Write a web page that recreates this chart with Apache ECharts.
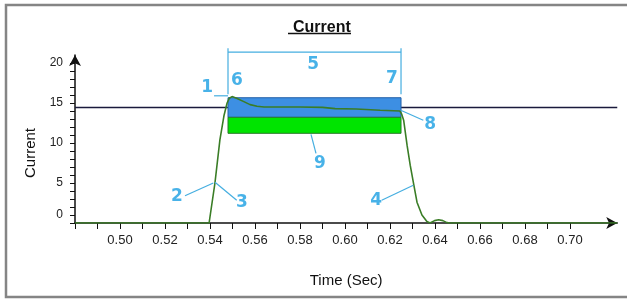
<!DOCTYPE html>
<html>
<head>
<meta charset="utf-8">
<script src="https://cdn.jsdelivr.net/npm/echarts@6/dist/echarts.min.js"></script>
<style>
html,body{margin:0;padding:0;background:#fff;overflow:hidden;}
#chart{width:627px;height:299px;}
</style>
</head>
<body>
<div id="chart"></div>
<script>
// ---- data ----
var timeSec = [0.480, 0.5396, 0.5422, 0.5444, 0.5462, 0.5476, 0.5486, 0.5498, 0.5518, 0.5548, 0.5578, 0.5609, 0.5640, 0.570, 0.580, 0.590, 0.5956, 0.605, 0.6156, 0.6244, 0.6252, 0.6261, 0.6276, 0.6290, 0.6305, 0.6320, 0.6342, 0.6364, 0.6378, 0.6398, 0.6416, 0.6435, 0.6453, 0.6467, 0.721];
var currentA = [0, 0, 5.0, 10.4, 13.4, 15.0, 15.6, 15.8, 15.6, 15.2, 14.8, 14.6, 14.5, 14.5, 14.5, 14.45, 14.3, 14.25, 14.1, 14.0, 13.6, 12.8, 9.7, 7.2, 4.9, 2.6, 1.0, 0.2, 0, 0.3, 0.4, 0.3, 0.05, 0, 0];
var refLevel = 14.45;
var bandStart = 0.548, bandEnd = 0.6249;
var blueTop = 15.66, blueBottom = 13.21, greenBottom = 11.21;
var xTickValues = [0.48,0.49,0.50,0.51,0.52,0.53,0.54,0.55,0.56,0.57,0.58,0.59,0.60,0.61,0.62,0.63,0.64,0.65,0.66,0.67,0.68,0.69,0.70];
var xLabelValues = [0.50,0.52,0.54,0.56,0.58,0.60,0.62,0.64,0.66,0.68,0.70];
var yTickValues = [0,1,2,3,4,5,6,7,8,9,10,11,12,13,14,15,16,17,18,19,20];
var yLabelValues = [0,5,10,15,20];
var calloutText = ['1','2','3','4','5','6','7','8','9'];
var calloutTime = [0.5387, 0.5253, 0.5542, 0.6138, 0.5858, 0.5520, 0.6209, 0.6378, 0.5889];
var calloutValue = [16.94, 3.31, 2.50, 2.75, 19.75, 17.81, 18.06, 12.31, 7.38];
var leaderLines = [
  [[0.5418, 15.9], [0.5480, 15.9]],
  [[0.52889, 3.4], [0.54147, 5.0]],
  [[0.54222, 5.1], [0.55187, 2.84]],
  [[0.61631, 2.84], [0.63036, 4.71]],
  [[0.62476, 14.09], [0.6348, 12.84]],
  [[0.58489, 11.09], [0.58711, 8.71]],
  [[0.548, 16.1], [0.548, 21.85]],
  [[0.6249, 16.1], [0.6249, 21.85]],
  [[0.548, 21.35], [0.6249, 21.35]]
];
// rectangles: [start, end, top, bottom, fill, border]
var bands = [
  [bandStart, bandEnd, blueTop, blueBottom, '#3d8fe3', '#2360a8'],
  [bandStart, bandEnd, blueBottom, greenBottom, '#00e400', '#2a7a2a']
];

var cyanText = '#1a9fe2';
var cyanLine = '#45aee0';
var fontFam = '"Liberation Sans", Arial, sans-serif';

var chart = echarts.init(document.getElementById('chart'), null, {renderer:'canvas'});

var series = [];
series.push({
  type:'line', z:1, silent:true, showSymbol:false, animation:false,
  data:[[0.48, refLevel],[0.721, refLevel]],
  lineStyle:{color:'#1a1a3c', width:1.5}
});
series.push({
  type:'custom', z:2, silent:true, animation:false,
  data: bands,
  renderItem:function(params, api){
    var p0 = api.coord([api.value(0), api.value(2)]);
    var p1 = api.coord([api.value(1), api.value(3)]);
    var b = bands[params.dataIndex];
    return {type:'rect', shape:{x:p0[0], y:p0[1], width:p1[0]-p0[0], height:p1[1]-p0[1]},
      style:{fill:b[4], stroke:b[5], lineWidth:1}};
  }
});
series.push({
  type:'line', z:3, silent:true, showSymbol:false, animation:false,
  data: timeSec.map(function(t,i){return [t, currentA[i]];}),
  lineStyle:{color:'#3a7d26', width:1.6}
});
leaderLines.forEach(function(seg){
  series.push({
    type:'line', z:4, silent:true, showSymbol:false, clip:false, animation:false,
    data:seg, lineStyle:{color:cyanLine, width:1.2}
  });
});
series.push({
  type:'scatter', z:5, silent:true, clip:false, animation:false,
  symbolSize:1, itemStyle:{color:'rgba(0,0,0,0)'},
  data: calloutText.map(function(s,i){return {name:s, value:[calloutTime[i], calloutValue[i]]};}),
  label:{show:true, position:'inside', formatter:'{b}', color:cyanText, fontSize:17, fontWeight:'bold', fontFamily:'"DejaVu Sans", Verdana, sans-serif'}
});

chart.setOption({
  animation:false,
  backgroundColor:'#ffffff',
  title:{
    text:'Current', left:288, top:15,
    textStyle:{fontSize:16, fontWeight:'bold', color:'#111', fontFamily:fontFam}
  },
  graphic:[
    {type:'rect', silent:true, z:0, shape:{x:6, y:5, width:640, height:292}, style:{fill:'none', stroke:'#858585', lineWidth:2.5}},
    {type:'line', silent:true, shape:{x1:288, y1:33.5, x2:351, y2:33.5}, style:{stroke:'#111', lineWidth:1.3}}
  ],
  grid:{left:75, right:9.75, top:55, bottom:76, containLabel:false},
  xAxis:{
    type:'value', min:0.48, max:0.721,
    name:'Time (Sec)', nameLocation:'middle', nameGap:50,
    nameTextStyle:{fontSize:15, color:'#111', fontFamily:fontFam},
    axisLine:{show:true, lineStyle:{color:'#111', width:1.5}, symbol:['none','arrow'], symbolSize:[9,11]},
    axisTick:{show:true, length:6, customValues:xTickValues, lineStyle:{color:'#111', width:1}},
    axisLabel:{show:true, customValues:xLabelValues, margin:11, fontSize:13, color:'#222', fontFamily:fontFam,
      formatter:function(v){return v.toFixed(2);}},
    splitLine:{show:false}
  },
  yAxis:{
    type:'value', min:0, max:21,
    name:'Current', nameLocation:'middle', nameGap:36, nameRotate:90,
    nameTextStyle:{fontSize:15, color:'#111', fontFamily:fontFam, padding:[0,28,0,0]},
    axisLine:{show:true, lineStyle:{color:'#111', width:1.5}, symbol:['none','arrow'], symbolSize:[9,11]},
    axisTick:{show:true, length:5, customValues:yTickValues, lineStyle:{color:'#111', width:1}},
    axisLabel:{show:true, customValues:yLabelValues, margin:12, fontSize:12, color:'#222', fontFamily:fontFam,
      formatter:function(v){return v===0 ? '{z|0}' : String(v);},
      rich:{z:{fontSize:12, color:'#222', fontFamily:fontFam, padding:[0,0,16,0]}}},
    splitLine:{show:false}
  },
  series:series
});
</script>
</body>
</html>
